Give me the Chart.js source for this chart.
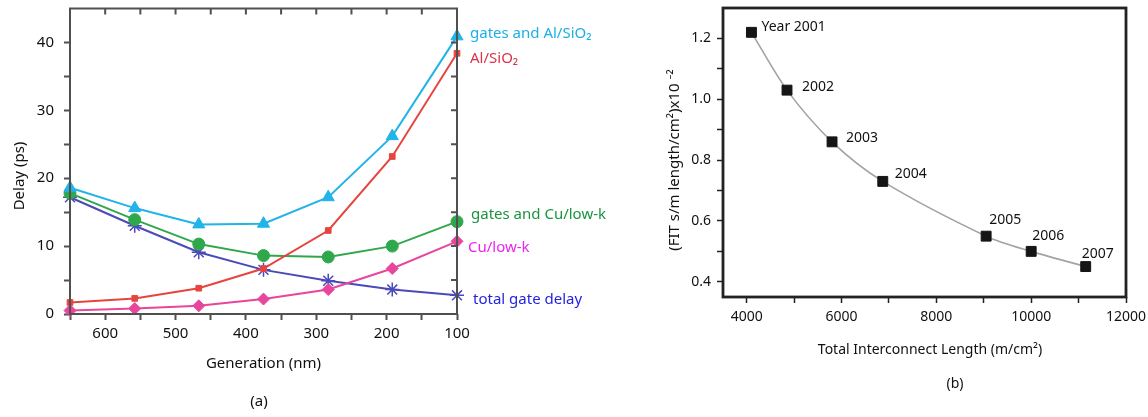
<!DOCTYPE html>
<html><head><meta charset="utf-8">
<script src="https://cdn.jsdelivr.net/npm/chart.js@4"></script>
<style>
html,body{margin:0;padding:0;background:#fff;}
#wrap{position:relative;width:1148px;height:417px;overflow:hidden;}
#ca{position:absolute;left:0;top:0;}
#cb{position:absolute;left:660px;top:0;}
</style></head><body>
<div id="wrap">
<canvas id="ca" width="660" height="417"></canvas>
<canvas id="cb" width="488" height="417"></canvas>
</div>
<script>
// ---------- Panel (a) data ----------
const generation = [650, 558, 467, 375, 283, 192, 100];
const gatesAlSiO2 = [18.6, 15.6, 13.2, 13.3, 17.2, 26.2, 40.9];
const alSiO2 = [1.7, 2.3, 3.8, 6.7, 12.3, 23.2, 38.4];
const gatesCuLowK = [17.8, 13.9, 10.3, 8.6, 8.4, 10.0, 13.6];
const cuLowK = [0.5, 0.8, 1.2, 2.2, 3.6, 6.7, 10.7];
const totalGateDelay = [17.2, 13.0, 9.1, 6.5, 4.9, 3.6, 2.75];
const seriesNamesA = ['gates and Al/SiO\u2082', 'Al/SiO\u2082', 'gates and Cu/low-k', 'Cu/low-k', 'total gate delay'];
const genTicksMajor = [600, 500, 400, 300, 200, 100];
const genTicksMinor = [650, 550, 450, 350, 250, 150];
const delayTicksMajor = [0, 10, 20, 30, 40];
const delayTicksMinor = [5, 15, 25, 35];

// ---------- Panel (b) data ----------
const interconnectLength = [4100, 4850, 5800, 6870, 9050, 10000, 11150];
const fitRate = [1.22, 1.03, 0.86, 0.73, 0.55, 0.50, 0.45];
const yearLabels = ['Year 2001', '2002', '2003', '2004', '2005', '2006', '2007'];
const lenTicksMajor = [4000, 6000, 8000, 10000, 12000];
const lenTicksMinor = [5000, 7000, 9000, 11000];
const fitTicksMajor = [0.4, 0.6, 0.8, 1.0, 1.2];
const fitTicksMinor = [0.5, 0.7, 0.9, 1.1];

// ---------- styles ----------
const FONT = '"Noto Sans", "Open Sans", sans-serif';
const lineColorsA = ['#22b3e8', '#e6453f', '#2fa84c', '#e8459c', '#4a4ab8'];
const labelColorsA = ['#1ab0e6', '#d9334c', '#1a9440', '#ee22ee', '#2424e0'];
const markersA = ['triangle', 'rect', 'circle', 'rectRot', 'star'];
const markerSizeA = [7, 4, 6, 6, 7];
const labelOffA = [[13, -3], [13, 5], [14, -7], [11, 6], [16, 4]];
const labelOffB = [[10, -5], [15, -3], [14, -4], [12, -7], [3, -16], [1, -15], [-4, -13]];

function pts(xs, ys) { return xs.map((x, i) => ({x: x, y: ys[i]})); }
function tickSetter(major, minor) {
  return function (scale) {
    scale.ticks = major.concat(minor).sort((a, b) => a - b).map(v => ({value: v}));
  };
}
function labelFn(major, fmt) {
  return function (value) { return major.includes(value) ? fmt(value) : ''; };
}
function noPad(scale) {
  scale.paddingTop = 0; scale.paddingBottom = 0;
  scale.paddingLeft = 0; scale.paddingRight = 0;
}

Chart.defaults.font.family = FONT;
Chart.defaults.color = '#111';

// ---------- Panel (a) ----------
const seriesA = [gatesAlSiO2, alSiO2, gatesCuLowK, cuLowK, totalGateDelay];
const decorA = {
  id: 'decorA',
  afterDraw(chart) {
    const ctx = chart.ctx, a = chart.chartArea;
    const xs = chart.scales.x, ys = chart.scales.y;
    ctx.save();
    ctx.strokeStyle = '#505050';
    ctx.lineWidth = 2;
    ctx.strokeRect(a.left, a.top, a.right - a.left, a.bottom - a.top);
    ctx.beginPath();
    genTicksMajor.concat(genTicksMinor).forEach(v => {
      const px = xs.getPixelForValue(v);
      ctx.moveTo(px, a.top); ctx.lineTo(px, a.top + 6);
    });
    delayTicksMajor.concat(delayTicksMinor).forEach(v => {
      const py = ys.getPixelForValue(v);
      ctx.moveTo(a.right, py); ctx.lineTo(a.right - 6, py);
    });
    ctx.stroke();
    // series labels
    ctx.font = '15px ' + FONT;
    ctx.textBaseline = 'middle';
    ctx.textAlign = 'left';
    seriesA.forEach((s, i) => {
      const last = s.length - 1;
      const px = xs.getPixelForValue(generation[last]);
      const py = ys.getPixelForValue(s[last]);
      ctx.fillStyle = labelColorsA[i];
      ctx.fillText(seriesNamesA[i], px + labelOffA[i][0], py + labelOffA[i][1]);
    });
    // axis titles
    ctx.fillStyle = '#111';
    ctx.textAlign = 'center';
    ctx.fillText('Generation (nm)', (a.left + a.right) / 2, 364);
    ctx.fillText('(a)', 259, 402);
    ctx.translate(20, 176);
    ctx.rotate(-Math.PI / 2);
    ctx.fillText('Delay (ps)', 0, 0);
    ctx.restore();
  }
};

new Chart(document.getElementById('ca'), {
  type: 'line',
  data: {
    datasets: seriesA.map((s, i) => ({
      label: seriesNamesA[i],
      data: pts(generation, s),
      borderColor: lineColorsA[i],
      backgroundColor: lineColorsA[i],
      pointBackgroundColor: lineColorsA[i],
      pointBorderColor: lineColorsA[i],
      pointStyle: markersA[i],
      pointRadius: markerSizeA[i],
      pointBorderWidth: markersA[i] === 'star' ? 1.5 : 1,
      borderWidth: 2,
      tension: 0,
      clip: false,
      fill: false
    }))
  },
  options: {
    responsive: false,
    devicePixelRatio: 1,
    animation: false,
    layout: {padding: {left: 20, right: 203, top: 4, bottom: 0}},
    plugins: {legend: {display: false}, tooltip: {enabled: false}},
    scales: {
      x: {
        type: 'linear', reverse: true, min: 100, max: 650,
        afterBuildTicks: tickSetter(genTicksMajor, genTicksMinor),
        afterFit(scale) { scale.height = 103; noPad(scale); },
        border: {display: false},
        grid: {drawOnChartArea: false, drawTicks: true, tickLength: 6, tickColor: '#505050', tickWidth: 2},
        ticks: {autoSkip: false, maxRotation: 0, padding: 5, font: {size: 15}, color: '#111',
          callback: labelFn(genTicksMajor, v => String(v))}
      },
      y: {
        type: 'linear', min: 0, max: 45,
        afterBuildTicks: tickSetter(delayTicksMajor, delayTicksMinor),
        afterFit(scale) { scale.width = 50; noPad(scale); },
        border: {display: false},
        grid: {drawOnChartArea: false, drawTicks: true, tickLength: 6, tickColor: '#505050', tickWidth: 2},
        ticks: {autoSkip: false, padding: 10, font: {size: 15}, color: '#111',
          callback: labelFn(delayTicksMajor, v => String(v))}
      }
    }
  },
  plugins: [decorA]
});

// ---------- Panel (b) ----------
const decorB = {
  id: 'decorB',
  afterDraw(chart) {
    const ctx = chart.ctx, a = chart.chartArea;
    const xs = chart.scales.x, ys = chart.scales.y;
    ctx.save();
    ctx.strokeStyle = '#222';
    ctx.lineWidth = 2.8;
    ctx.strokeRect(a.left, a.top, a.right - a.left, a.bottom - a.top);
    ctx.font = '14px ' + FONT;
    ctx.fillStyle = '#111';
    ctx.textBaseline = 'middle';
    ctx.textAlign = 'left';
    yearLabels.forEach((t, i) => {
      const px = xs.getPixelForValue(interconnectLength[i]);
      const py = ys.getPixelForValue(fitRate[i]);
      ctx.fillText(t, px + labelOffB[i][0], py + labelOffB[i][1]);
    });
    ctx.textAlign = 'center';
    ctx.fillText('Total Interconnect Length (m/cm\u00B2)', 270, 350);
    ctx.fillText('(b)', 295, 384);
    ctx.font = '15px ' + FONT;
    ctx.translate(15, 160);
    ctx.rotate(-Math.PI / 2);
    ctx.fillText('(FIT s/m length/cm\u00B2)x10 \u207B\u00B2', 0, 0);
    ctx.restore();
  }
};

new Chart(document.getElementById('cb'), {
  type: 'line',
  data: {
    datasets: [{
      label: 'FIT',
      data: pts(interconnectLength, fitRate),
      borderColor: '#a3a3a3',
      borderWidth: 1.6,
      pointStyle: 'rect',
      pointRadius: 7,
      pointBackgroundColor: '#151515',
      pointBorderColor: '#151515',
      pointBorderWidth: 1,
      tension: 0.3,
      clip: false,
      fill: false
    }]
  },
  options: {
    responsive: false,
    devicePixelRatio: 1,
    animation: false,
    layout: {padding: {left: 0, right: 22, top: 4, bottom: 0}},
    plugins: {legend: {display: false}, tooltip: {enabled: false}},
    scales: {
      x: {
        type: 'linear', min: 3500, max: 12000,
        afterBuildTicks: tickSetter(lenTicksMajor, lenTicksMinor),
        afterFit(scale) { scale.height = 120; noPad(scale); },
        border: {display: false},
        grid: {drawOnChartArea: false, drawTicks: true, tickLength: 6, tickColor: '#222', tickWidth: 1.5},
        ticks: {autoSkip: false, maxRotation: 0, padding: 6, font: {size: 14}, color: '#111',
          callback: labelFn(lenTicksMajor, v => String(v))}
      },
      y: {
        type: 'linear', min: 0.35, max: 1.3,
        afterBuildTicks: tickSetter(fitTicksMajor, fitTicksMinor),
        afterFit(scale) { scale.width = 63; noPad(scale); },
        border: {display: false},
        grid: {drawOnChartArea: false, drawTicks: true, tickLength: 6, tickColor: '#222', tickWidth: 1.5},
        ticks: {autoSkip: false, padding: 6, font: {size: 14}, color: '#111',
          callback: labelFn(fitTicksMajor, v => v.toFixed(1))}
      }
    }
  },
  plugins: [decorB]
});
</script>
</body></html>
